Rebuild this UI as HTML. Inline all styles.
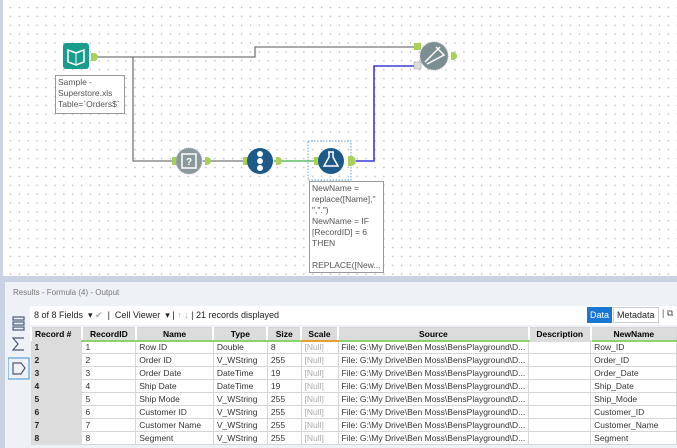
<!DOCTYPE html>
<html><head><meta charset="utf-8"><style>
*{margin:0;padding:0;box-sizing:border-box}
body{width:677px;height:448px;overflow:hidden;background:#fff;font-family:"Liberation Sans",sans-serif;position:relative}
#canvas{position:absolute;left:0;top:0;width:677px;height:277px;background-color:#fff;background-image:radial-gradient(circle,#b8b8b8 0.6px,transparent 0.9px);background-size:8.9px 8.9px;background-position:3px 3px;border-left:3px solid #c9d3e3}
#sep{position:absolute;left:0;top:276px;width:677px;height:6px;background:#c8d2e2}
#reshead{position:absolute;left:0;top:282px;width:677px;height:22px;background:#eef1f6;border-left:5px solid #c8d2e2;font-size:8px;color:#777;padding:6px 0 0 8px}
#resbody{position:absolute;left:0;top:304px;width:677px;height:144px;background:#eef1f6;border-left:5px solid #c8d2e2}
#toolbar{position:absolute;left:30px;top:306px;width:647px;height:19px;background:#fff;font-size:9px;color:#222}
table{position:absolute;left:30px;top:327px;border-collapse:collapse;font-size:8.5px;table-layout:fixed}
td,th{height:13px;padding:0 3px;white-space:nowrap;overflow:hidden;border:1px solid #d6d6d6}
th{background:#dcdcdc;font-weight:bold;height:13px;border-bottom:2px solid #8bd36a;border-left:2px solid #fff}
th.rec{border-bottom:none;text-align:left}
td{background:#fff;color:#333}
td.rn{background:#dcdcdc;font-weight:bold;color:#222;border-color:#dcdcdc}
td.nl{color:#aaa}
.ann{position:absolute;background:#fff;border:1px solid #999;font-size:8.5px;color:#555;line-height:11px;padding:1px 2px}
</style></head><body>
<div id="canvas"></div>
<svg style="position:absolute;left:0;top:0" width="677" height="277">
<g fill="none" stroke-width="1.3">
<path d="M98 57 H255 V47 H416" stroke="#777"/>
<path d="M133 57 V161 H174" stroke="#777"/>
<path d="M203 161 H245" stroke="#777"/>
<path d="M274 161 H316" stroke="#3cb043"/>
<path d="M356 161 H374 V66 H416" stroke="#3a3ae0" stroke-width="1.6"/>
</g>
<!-- input -->
<rect x="63" y="43" width="26" height="26" rx="3" fill="#1a9c8c"/>
<path d="M68 50 L76 53 L84 50 V62 L76 65 L68 62Z" fill="none" stroke="#fff" stroke-width="1.5"/><path d="M76 53V65" stroke="#fff"/>
<path d="M91 53 h3 a4 4 0 0 1 0 8 h-3z" fill="#a9d15a"/>
<!-- sampler -->
<rect x="172" y="157" width="5" height="8" fill="#a9d15a"/>
<circle cx="189" cy="161" r="13" fill="#8a9a9c" stroke="#aab" stroke-dasharray="1 1"/>
<rect x="182" y="154" width="14" height="14" fill="none" stroke="#fff" stroke-width="1.5"/><text x="189" y="165" font-size="10" fill="#fff" text-anchor="middle" font-weight="bold">?</text>
<path d="M205 157 h2 a4 4 0 0 1 0 8 h-2z" fill="#a9d15a"/>
<!-- recordid -->
<rect x="243" y="157" width="5" height="8" fill="#a9d15a"/>
<circle cx="260" cy="161" r="13" fill="#1d5a8a"/>
<circle cx="260" cy="154" r="3" fill="#fff"/><circle cx="260" cy="161" r="3" fill="#fff"/><circle cx="260" cy="168" r="3" fill="#fff"/>
<path d="M276 157 h2 a4 4 0 0 1 0 8 h-2z" fill="#a9d15a"/>
<!-- formula -->
<rect x="308" y="141" width="43" height="39" fill="none" stroke="#5aa0e0" stroke-dasharray="1.5 1.5"/>
<rect x="314" y="157" width="5" height="8" fill="#a9d15a"/>
<circle cx="331" cy="161" r="13" fill="#1d5a8a"/>
<path d="M328 152 h6 M329 152 v5 l-5 9 h14 l-5 -9 v-5" fill="none" stroke="#fff" stroke-width="1.5"/>
<path d="M348 156 h3 a5 5 0 0 1 0 10 h-3z" fill="#a9d15a"/>
<!-- join -->
<rect x="414" y="43" width="7" height="7" fill="#a9d15a"/>
<rect x="414" y="62" width="7" height="7" fill="#ddd" stroke="#999" stroke-width="0.5"/>
<circle cx="434" cy="56" r="14" fill="#7d8e92" stroke="#aab" stroke-dasharray="1 1"/>
<path d="M425 62 L440 47 M427 64 L444 55 L436 47" stroke="#fff" stroke-width="1.5" fill="none"/>
<path d="M451 52 h2 a4 4 0 0 1 0 8 h-2z" fill="#a9d15a"/>
</svg>
<div class="ann" style="left:55px;top:75px;width:70px;height:39px">Sample -<br>Superstore.xls<br>Table=`Orders$`</div>
<div class="ann" style="left:309px;top:181px;width:75px;height:92px">NewName =<br>replace([Name],"<br>",".")<br>NewName = IF<br>[RecordID] = 6<br>THEN<br><br>REPLACE([New...</div>
<div id="sep"></div>
<div id="reshead">Results - Formula (4) - Output</div>
<div id="resbody"></div>
<svg style="position:absolute;left:8px;top:312px" width="22" height="70">
<g fill="none" stroke="#4a5a7a" stroke-width="1.2"><rect x="5" y="5" width="11" height="3"/><rect x="5" y="10" width="11" height="3"/><rect x="5" y="15" width="11" height="3"/>
<path d="M16 26 H5 L10 32 L5 38 H16"/>
<rect x="0" y="46" width="21" height="21" stroke="#5aa0e0"/><path d="M5 51 H13 L17 56 L13 62 H5Z"/></g></svg>
<div id="toolbar">
<span style="position:absolute;left:4px;top:4px">8 of 8 Fields &nbsp;▾ <span style="color:#aaa">✔</span> &nbsp;| &nbsp;Cell Viewer &nbsp;▾ | <span style="color:#aaa">↑ ↓</span> | 21 records displayed</span>
<span style="position:absolute;left:557px;top:1px;background:#1976d2;color:#fff;padding:3px 3px;font-size:9px">Data</span>
<span style="position:absolute;left:583px;top:1px;border:1px solid #ccc;padding:2px 3px;font-size:9px">Metadata</span>
<span style="position:absolute;left:632px;top:2px;color:#555">| ⧉</span>
</div>
<table>
<colgroup><col style="width:52px"><col style="width:55px"><col style="width:79px"><col style="width:55px"><col style="width:35px"><col style="width:38px"><col style="width:182px"><col style="width:63px"><col style="width:88px"></colgroup>
<tr><th class="rec">Record #</th><th>RecordID</th><th>Name</th><th>Type</th><th>Size</th><th style="border-bottom-color:#e8a030">Scale</th><th>Source</th><th style="border-bottom-color:#dcdcdc">Description</th><th>NewName</th></tr>
<tr><td class="rn">1</td><td>1</td><td>Row ID</td><td>Double</td><td>8</td><td class="nl">[Null]</td><td>File: G:\My Drive\Ben Moss\BensPlayground\D...</td><td></td><td>Row_ID</td></tr>
<tr><td class="rn">2</td><td>2</td><td>Order ID</td><td>V_WString</td><td>255</td><td class="nl">[Null]</td><td>File: G:\My Drive\Ben Moss\BensPlayground\D...</td><td></td><td>Order_ID</td></tr>
<tr><td class="rn">3</td><td>3</td><td>Order Date</td><td>DateTime</td><td>19</td><td class="nl">[Null]</td><td>File: G:\My Drive\Ben Moss\BensPlayground\D...</td><td></td><td>Order_Date</td></tr>
<tr><td class="rn">4</td><td>4</td><td>Ship Date</td><td>DateTime</td><td>19</td><td class="nl">[Null]</td><td>File: G:\My Drive\Ben Moss\BensPlayground\D...</td><td></td><td>Ship_Date</td></tr>
<tr><td class="rn">5</td><td>5</td><td>Ship Mode</td><td>V_WString</td><td>255</td><td class="nl">[Null]</td><td>File: G:\My Drive\Ben Moss\BensPlayground\D...</td><td></td><td>Ship_Mode</td></tr>
<tr><td class="rn">6</td><td>6</td><td>Customer ID</td><td>V_WString</td><td>255</td><td class="nl">[Null]</td><td>File: G:\My Drive\Ben Moss\BensPlayground\D...</td><td></td><td>Customer_ID</td></tr>
<tr><td class="rn">7</td><td>7</td><td>Customer Name</td><td>V_WString</td><td>255</td><td class="nl">[Null]</td><td>File: G:\My Drive\Ben Moss\BensPlayground\D...</td><td></td><td>Customer_Name</td></tr>
<tr><td class="rn">8</td><td>8</td><td>Segment</td><td>V_WString</td><td>255</td><td class="nl">[Null]</td><td>File: G:\My Drive\Ben Moss\BensPlayground\D...</td><td></td><td>Segment</td></tr>
</table>
</body></html>
